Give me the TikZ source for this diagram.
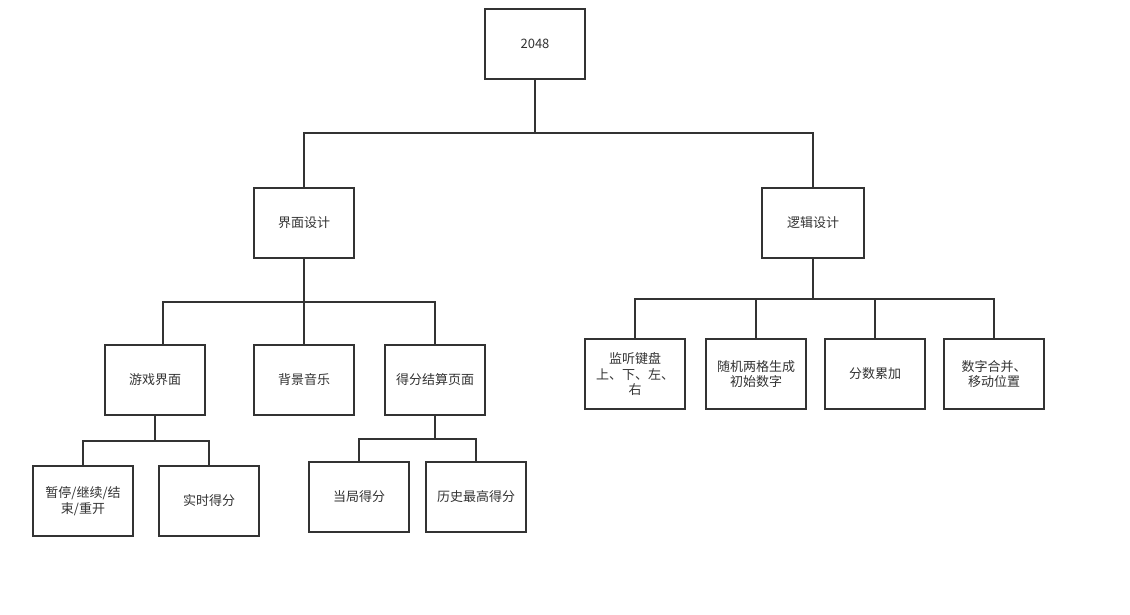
\documentclass[tikz,border=0pt]{standalone}
\usepackage{fontspec}
\setmainfont{Noto Sans CJK SC}
\definecolor{lc}{HTML}{333333}
\definecolor{tc}{HTML}{333333}
\tikzset{
  box/.style={draw=lc, line width=2pt, minimum width=100pt, minimum height=70pt,
    inner sep=0pt, outer sep=0pt, align=center, font=\fontsize{13}{15.5}\selectfont, text=tc, fill=white},
  conn/.style={draw=lc, line width=2pt}
}
\begin{document}
\begin{tikzpicture}[x=1pt,y=1pt]
\useasboundingbox[fill=white] (0,0) rectangle (1130,-614);
% nodes
\node[box] (root) at (535,-44) {2048};
\node[box] (ui) at (304,-223) {界面设计};
\node[box, minimum width=102pt] (logic) at (813,-223) {逻辑设计};
\node[box] (game) at (155,-380) {游戏界面};
\node[box] (music) at (304,-380) {背景音乐};
\node[box] (score) at (435,-380) {得分结算页面};
\node[box] (pause) at (83,-501) {暂停/继续/结\\束/重开};
\node[box] (realtime) at (209,-501) {实时得分};
\node[box] (cur) at (359,-497) {当局得分};
\node[box] (hist) at (476,-497) {历史最高得分};
\node[box] (l1) at (635,-374) {监听键盘\\上、下、左、\\右};
\node[box] (l2) at (756,-374) {随机两格生成\\初始数字};
\node[box] (l3) at (875,-374) {分数累加};
\node[box] (l4) at (994,-374) {数字合并、\\移动位置};
% junctions
\coordinate (j1) at (535,-133);
\coordinate (j2) at (304,-302);
\coordinate (gtop) at (163,-345);
\coordinate (j3) at (155,-441);
\coordinate (j4) at (435,-439);
\coordinate (j5) at (813,-299);
% connectors
\draw[conn] (root.south) -- (j1);
\draw[conn] (ui.north) |- (j1) -| (logic.north);
\draw[conn] (ui.south) -- (music.north);
\draw[conn] (gtop) |- (j2) -| (score.north);
\draw[conn] (game.south) -- (j3);
\draw[conn] (pause.north) |- (j3) -| (realtime.north);
\draw[conn] (score.south) -- (j4);
\draw[conn] (cur.north) |- (j4) -| (hist.north);
\draw[conn] (logic.south) -- (j5);
\draw[conn] (l1.north) |- (j5) -| (l4.north);
\draw[conn] (l2.north) -- (l2.north |- j5);
\draw[conn] (l3.north) -- (l3.north |- j5);
\end{tikzpicture}
\end{document}
